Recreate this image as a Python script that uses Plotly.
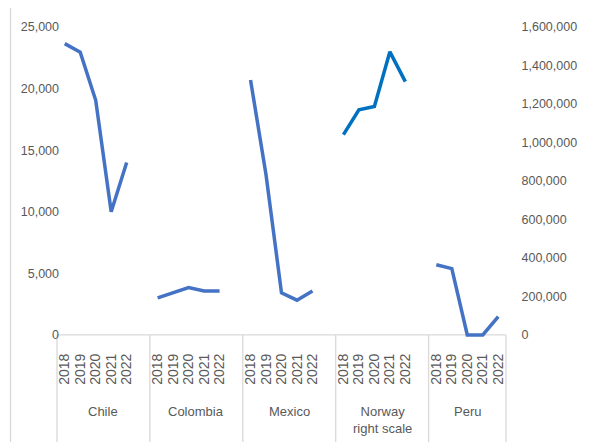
import plotly.graph_objects as go

countries = ["Chile", "Colombia", "Mexico", "Norway", "Peru"]
group_labels = ["Chile", "Colombia", "Mexico", "Norway<br>right scale", "Peru"]
years = ["2018", "2019", "2020", "2021", "2022"]

chile = [23650, 22950, 19050, 10000, 14000]
colombia = [3010, 3430, 3850, 3570, 3570]
mexico = [20700, 13000, 3410, 2820, 3570]
norway = [1041000, 1170000, 1187000, 1471000, 1316000]  # right scale
peru = [5700, 5380, 0, 0, 1480]

series = [chile, colombia, mexico, norway, peru]
right_scale = [False, False, False, True, False]

LEFT_MAX = 25000
RIGHT_MAX = 1600000
left_ticks = [0, 5000, 10000, 15000, 20000, 25000]
right_ticks = [0, 200000, 400000, 600000, 800000, 1000000, 1200000, 1400000, 1600000]

OFF = 8  # page body margin
W, H = 591 - OFF, 442 - OFF
ML, MT = 57 - OFF, 25 - OFF
PW = 449
MR = W - ML - PW
MB = 104
PH = H - MT - MB

slot = len(years) + 1  # one blank category between groups
n_cat = slot * (len(countries) - 1) + len(years)
xr = [-0.5, n_cat - 0.5]
ylo = -250
yr = [ylo, LEFT_MAX]
yr2 = [ylo * RIGHT_MAX / LEFT_MAX, RIGHT_MAX]

BLUE = "#4472C4"
BLUE2 = "#0070C0"
GRID = "#D9D9D9"
TXT = "#595959"
FONT = "Liberation Sans"


def px_x(p):  # reference screen pixel -> paper
    return (p - OFF - ML) / PW


def px_y(p):
    return (H - MB - (p - OFF)) / PH


def cat_to_paper(c):
    return (c - xr[0]) / (xr[1] - xr[0])


fig = go.Figure()
tickvals, ticktext = [], []
for g, (name, vals) in enumerate(zip(countries, series)):
    xs = [g * slot + j for j in range(len(years))]
    tickvals += xs
    ticktext += years
    fig.add_trace(go.Scatter(
        x=xs, y=vals, mode="lines", name=name,
        line=dict(color=BLUE2 if right_scale[g] else BLUE, width=3.5),
        yaxis="y2" if right_scale[g] else "y",
        showlegend=False, hoverinfo="x+y",
    ))

shapes = []
y0p = (0 - ylo) / (yr[1] - ylo)
# zero axis line
shapes.append(dict(type="line", xref="paper", yref="paper", x0=0, x1=1, y0=y0p, y1=y0p,
                   line=dict(color=GRID, width=1.3), layer="below"))
# group separators
seps = [-0.5] + [g * slot + len(years) + 0.5 for g in range(len(countries) - 1)] + [n_cat - 0.5]
for s in seps:
    xp = cat_to_paper(s)
    shapes.append(dict(type="line", xref="paper", yref="paper", x0=xp, x1=xp, y0=y0p, y1=px_y(450),
                       line=dict(color=GRID, width=1.3), layer="below"))
# chart border
shapes.append(dict(type="rect", xref="paper", yref="paper", x0=px_x(10.5), x1=px_x(588.5),
                   y0=px_y(450), y1=px_y(4.5), line=dict(color=GRID, width=1.3), layer="below"))

annotations = []
for g, lab in enumerate(group_labels):
    start = g * slot - 0.5
    end = min(g * slot + slot - 0.5, n_cat - 0.5)
    center = (start + end) / 2
    annotations.append(dict(
        x=cat_to_paper(center), xref="paper", y=px_y(402), yref="paper",
        text=lab, showarrow=False, xanchor="center", yanchor="top",
        font=dict(family=FONT, size=13, color=TXT), align="center",
    ))

fig.update_layout(
    width=W, height=H,
    margin=dict(l=ML, r=MR, t=MT, b=MB, pad=0),
    paper_bgcolor="white", plot_bgcolor="white",
    shapes=shapes, annotations=annotations,
    xaxis=dict(range=xr, tickvals=tickvals, ticktext=ticktext, tickangle=-90,
               showgrid=False, zeroline=False, showline=False,
               ticks="outside", ticklen=9, tickcolor="rgba(0,0,0,0)",
               tickfont=dict(family=FONT, size=14, color=TXT)),
    yaxis=dict(range=yr, tickvals=left_ticks, tickformat=",", showgrid=False,
               zeroline=False, showline=False, ticks="",
               ticklabelstandoff=-3,
               tickfont=dict(family=FONT, size=12.5, color=TXT)),
    yaxis2=dict(range=yr2, tickvals=right_ticks, tickformat=",", showgrid=False,
                zeroline=False, showline=False, overlaying="y", side="right",
                ticks="outside", ticklen=12, tickcolor="rgba(0,0,0,0)",
                tickfont=dict(family=FONT, size=12.5, color=TXT)),
)

fig.write_html("out.html")
